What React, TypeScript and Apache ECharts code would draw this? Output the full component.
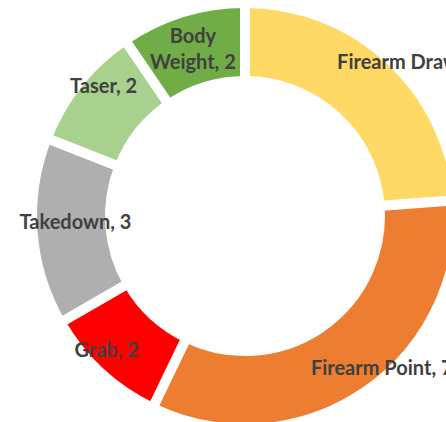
import React, { useEffect, useRef } from "react";
import * as echarts from "echarts";

const categories = ["Firearm Draw", "Firearm Point", "Grab", "Takedown", "Taser", "Body Weight"];
const values = [5, 7, 2, 3, 2, 2];
const colors = ["#FFD966", "#ED7D31", "#FF0000", "#AFAFAF", "#A9D18E", "#70AD47"];
const labelOffsets: [number, number][] = [
  [43, -25],
  [37, 5],
  [-18, 3],
  [7, -8],
  [-3, -21],
  [0, 1],
];

export default function App() {
  const ref = useRef<HTMLDivElement>(null);
  useEffect(() => {
    if (!ref.current) return;
    const chart = echarts.init(ref.current, undefined, { renderer: "svg" });
    chart.setOption({
      animation: false,
      backgroundColor: "#ffffff",
      series: [
        {
          type: "pie",
          center: [245, 216],
          radius: [135, 213],
          startAngle: 90,
          clockwise: true,
          avoidLabelOverlap: false,
          itemStyle: { borderColor: "#ffffff", borderWidth: 10 },
          label: {
            show: true,
            position: "inside",
            formatter: "{b}, {c}",
            fontFamily: "Lato",
            fontWeight: "bold",
            fontSize: 20,
            color: "#404040",
            lineHeight: 26,
            align: "center",
          },
          labelLine: { show: false },
          emphasis: { disabled: true },
          data: categories.map((c, i) => ({
            name: c,
            value: values[i],
            itemStyle: { color: colors[i] },
            label: {
              offset: labelOffsets[i],
              ...(c === "Body Weight" ? { formatter: "Body\nWeight, {c}" } : {}),
            },
          })),
        },
      ],
    });
    return () => chart.dispose();
  }, []);
  return (
    <div
      ref={ref}
      style={{ position: "fixed", left: 0, top: 0, width: 446, height: 422 }}
    />
  );
}
